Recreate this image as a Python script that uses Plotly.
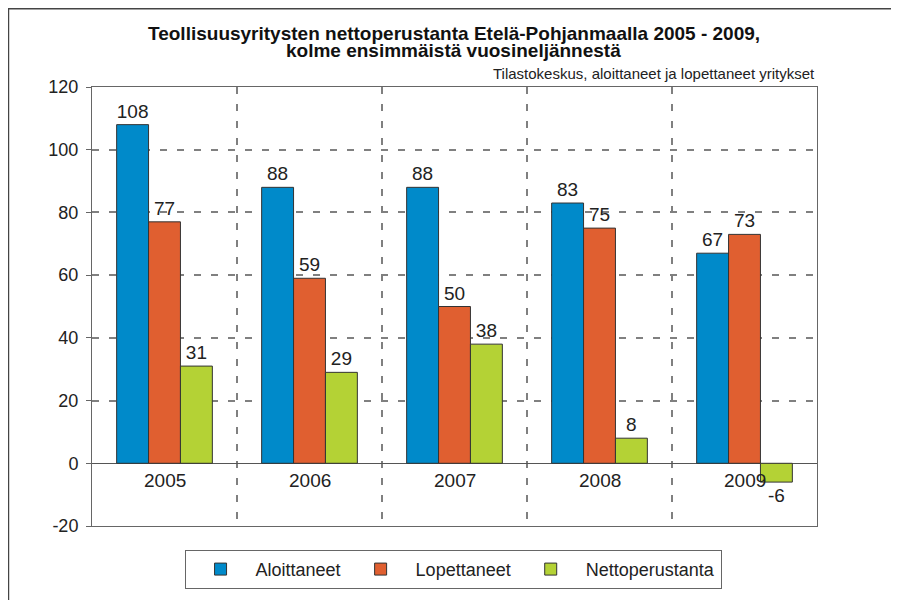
import plotly.graph_objects as go

# Data
years = ["2005", "2006", "2007", "2008", "2009"]
aloittaneet = [108, 88, 88, 83, 67]
lopettaneet = [77, 59, 50, 75, 73]
nettoperustanta = [31, 29, 38, 8, -6]
y_ticks = [-20, 0, 20, 40, 60, 80, 100, 120]

series = [
    ("Aloittaneet", aloittaneet, "#008aca"),
    ("Lopettaneet", lopettaneet, "#e05f30"),
    ("Nettoperustanta", nettoperustanta, "#b4d235"),
]

FONT = "Liberation Sans, Arial, sans-serif"
GRID = dict(showgrid=True, gridcolor="#808080", griddash="7px,10px", gridwidth=1.5)

fig = go.Figure()
for name, vals, color in series:
    fig.add_trace(go.Bar(
        x=years, y=vals, name=name,
        marker=dict(color=color, line=dict(color="#333333", width=1)),
        text=[str(v) for v in vals], textposition="outside",
        textfont=dict(size=19, color="#222222", family=FONT),
        cliponaxis=False,
    ))

# year labels sit just under the zero line (x given as category index)
for i, yr in enumerate(years):
    fig.add_annotation(x=i, y=0, xref="x", yref="y", text=yr, showarrow=False,
                       yanchor="top", yshift=-5, font=dict(size=19, color="#222222", family=FONT))

# two-line bold title, tight line spacing like the original
fig.add_annotation(x=0.4993, y=1.1227, xref="paper", yref="paper", xanchor="center", yanchor="middle",
                   text="<b>Teollisuusyritysten nettoperustanta Etelä-Pohjanmaalla 2005 - 2009,</b>",
                   showarrow=False, font=dict(size=19, color="#111111", family=FONT))
fig.add_annotation(x=0.4993, y=1.084, xref="paper", yref="paper", xanchor="center", yanchor="middle",
                   text="<b>kolme ensimmäistä vuosineljännestä</b>",
                   showarrow=False, font=dict(size=19, color="#111111", family=FONT))

fig.add_annotation(x=1.0, y=1.0318, xref="paper", yref="paper", xanchor="right", yanchor="middle",
                   text="Tilastokeskus, aloittaneet ja lopettaneet yritykset", showarrow=False,
                   font=dict(size=15, color="#222222", family=FONT))

# outer frame of the picture
fig.add_shape(type="rect", xref="paper", yref="paper", x0=-0.1152, x1=1.2, y0=-0.2, y1=1.1784,
              line=dict(color="#444444", width=1.5))

fig.update_layout(
    width=891, height=592,
    margin=dict(l=84, r=82, t=79, b=73),
    paper_bgcolor="white", plot_bgcolor="white",
    font=dict(family=FONT, color="#222222"),
    barmode="group", bargap=0.34, bargroupgap=0,
    xaxis=dict(
        type="category", range=[-0.5, 4.5], showticklabels=False, ticks="", tickson="boundaries",
        showline=True, linecolor="#666666", linewidth=1, mirror=True, **GRID,
    ),
    yaxis=dict(
        range=[-20, 120], tickvals=y_ticks, ticktext=[str(v) for v in y_ticks],
        ticks="outside", ticklen=5, tickcolor="#666666", ticklabelstandoff=4,
        tickfont=dict(size=18, color="#222222", family=FONT),
        zeroline=True, zerolinecolor="#555555", zerolinewidth=1,
        showline=True, linecolor="#666666", linewidth=1, mirror=True, **GRID,
    ),
    legend=dict(
        orientation="h", x=0.498, xanchor="center", y=-0.052, yanchor="top",
        bordercolor="#666666", borderwidth=1, bgcolor="white",
        font=dict(size=18, color="#222222", family=FONT),
        itemwidth=60,
    ),
)

fig.write_html("out.html")
